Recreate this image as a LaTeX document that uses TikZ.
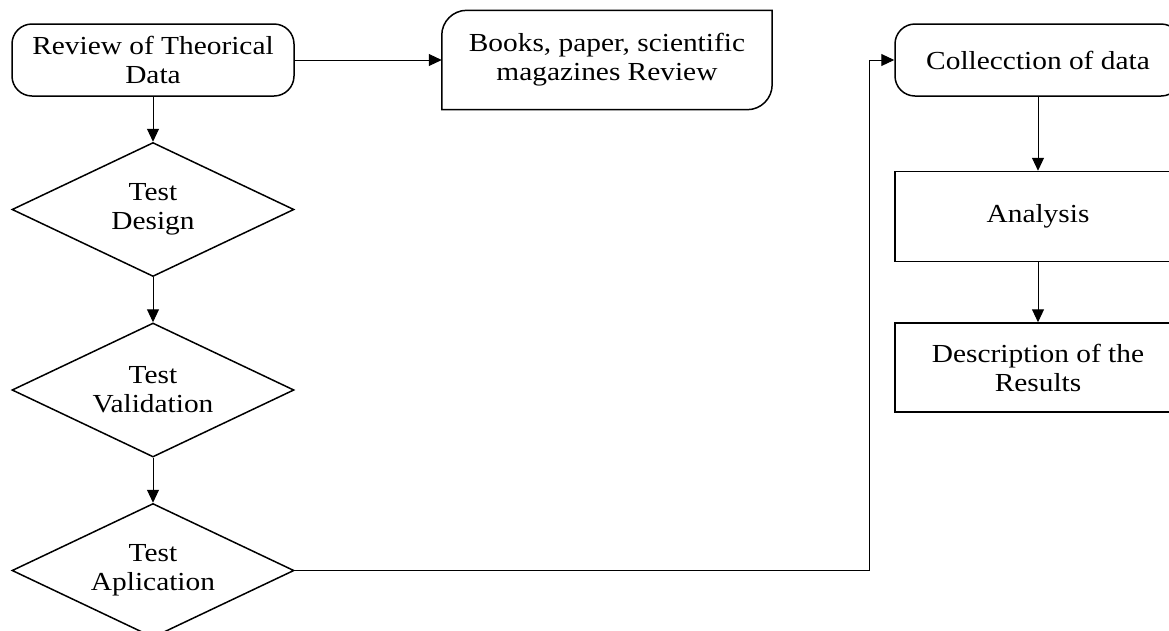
\documentclass[tikz,border=0pt]{standalone}
\usepackage{fontspec}
\setmainfont{Liberation Serif}[FakeStretch=1.13]
\usepackage{tikz}
\usetikzlibrary{arrows.meta,positioning,shapes.geometric}
\tikzset{
  term/.style={draw, rounded corners=20pt, align=center, inner sep=0pt, line width=1.5pt, minimum width=282pt, minimum height=72pt},
  dec/.style={draw, diamond, aspect=2.1, align=center, inner sep=0pt, line width=1.5pt, minimum width=282pt, minimum height=134pt},
  proc/.style={draw, align=center, inner sep=0pt, line width=1.5pt, minimum width=286pt, minimum height=90pt},
  fl/.style={-{Triangle[length=13pt,width=12pt]}, line width=1pt},
}
\begin{document}
\begin{tikzpicture}[x=1pt, y=1pt, node distance=45pt and 147pt,
    font=\fontsize{26}{29}\selectfont]
  \useasboundingbox (0,0) rectangle (1169,-630);
  % ---- left column: test preparation ----
  \node[term] (rev) at (153,-60) {Review of Theorical\\Data};
  \node[minimum width=330pt, minimum height=99pt, align=center, inner sep=0pt, right=of rev] (books) {Books, paper, scientific\\magazines Review};
  \draw[line width=1.5pt] (books.south west) -- ([yshift=-25pt]books.north west)
     arc[start angle=180, end angle=90, radius=25pt] -- (books.north east)
     -- ([yshift=25pt]books.south east)
     arc[start angle=0, end angle=-90, radius=25pt] -- cycle;
  \node[dec, below=of rev] (des) {Test\\Design};
  \node[dec, below=of des] (val) {Test\\Validation};
  \node[dec, below=of val] (apl) {Test\\Aplication};
  \draw[fl] (rev) -- (books);
  \foreach \a/\b in {rev/des,des/val,val/apl} \draw[fl] (\a)--(\b);

  % ---- right column: results ----
  \node[term, minimum width=286pt] (coll) at (1038,-60) {Collecction of data};
  \node[proc, below=74pt of coll] (ana) {Analysis};
  \node[proc, minimum height=89pt, below=60pt of ana] (res) {Description of the\\Results};
  \foreach \a/\b in {coll/ana,ana/res} \draw[fl] (\a)--(\b);

  \coordinate (jog) at (869,0);
  \draw[fl] (apl.east) -- (apl.east -| jog) |- (coll.west);
\end{tikzpicture}
\end{document}
